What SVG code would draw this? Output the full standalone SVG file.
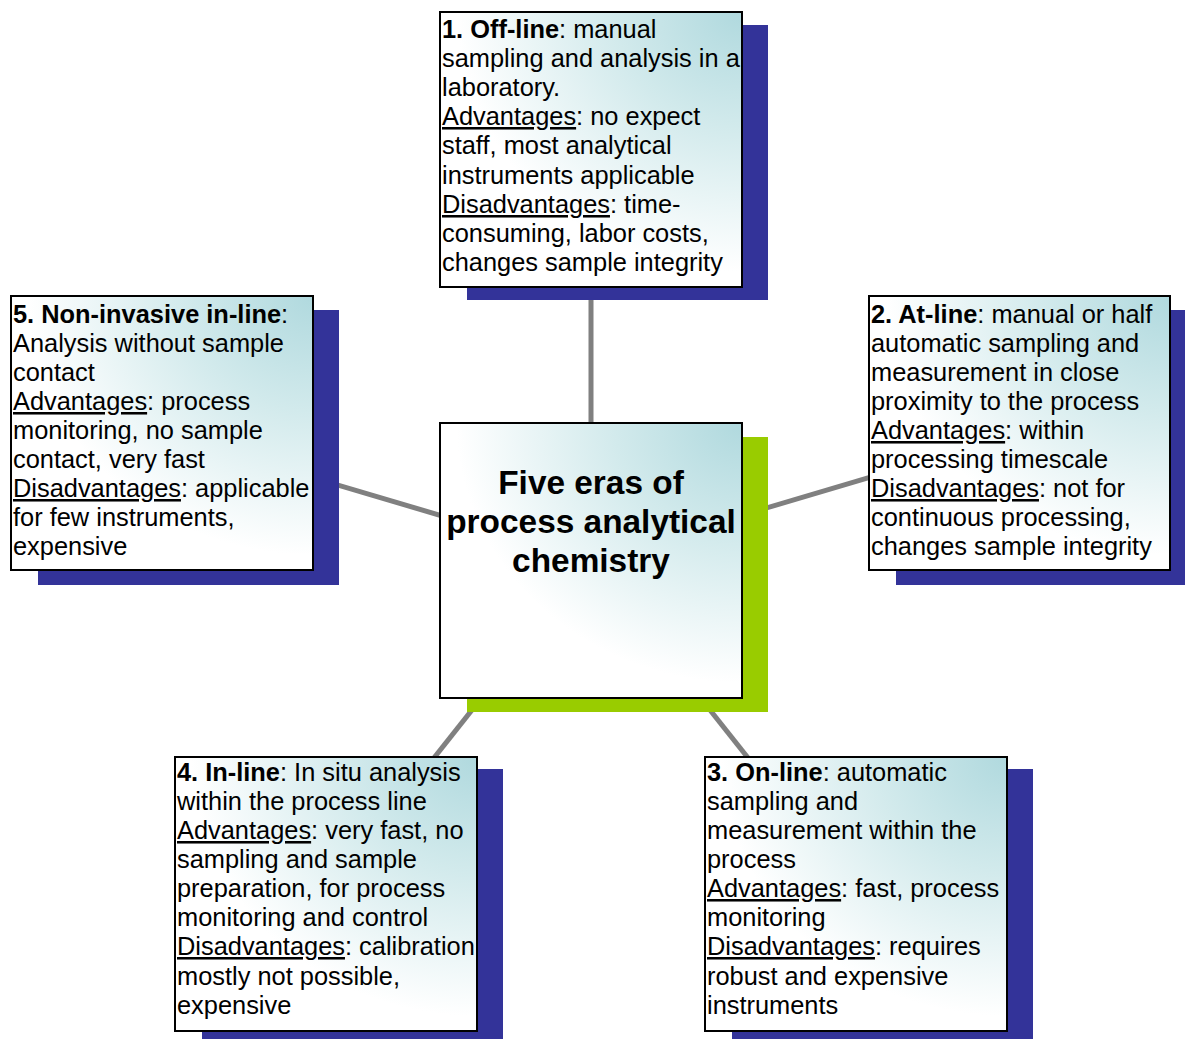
<svg xmlns="http://www.w3.org/2000/svg" width="1185" height="1039" viewBox="0 0 1185 1039">
  <defs>
    <radialGradient id="boxFill" cx="1" cy="0" r="1.05">
      <stop offset="0" stop-color="#b0d9de"/>
      <stop offset="0.4" stop-color="#d2eaec"/>
      <stop offset="0.9" stop-color="#ffffff"/>
    </radialGradient>
  </defs>
  <style>
    .box { fill: url(#boxFill); stroke: #000; stroke-width: 2; }
    .sh { fill: #333399; }
    .shc { fill: #99cc00; }
    .link { stroke: #808080; stroke-width: 5; fill: none; }
    .t { font-family: "Liberation Sans", Arial, sans-serif; font-size: 25.4px; fill: #000; }
    .b { font-weight: bold; }
    .u { text-decoration: underline; }
    .title { font-family: "Liberation Sans", Arial, sans-serif; font-size: 33.4px; font-weight: bold; fill: #000; text-anchor: middle; }
  </style>
  <rect width="1185" height="1039" fill="#ffffff"/>

  <!-- spokes from the hub to each era -->
  <g id="connectors">
    <line class="link" x1="591" y1="560" x2="591" y2="150"/>
    <line class="link" x1="591" y1="560" x2="1019" y2="433"/>
    <line class="link" x1="591" y1="560" x2="856" y2="894"/>
    <line class="link" x1="591" y1="560" x2="326" y2="894"/>
    <line class="link" x1="591" y1="560" x2="162" y2="433"/>
  </g>

  <!-- hub -->
  <g id="center">
    <rect class="shc" x="467" y="437" width="301" height="275"/>
    <rect class="box" x="440" y="423" width="302" height="275"/>
    <text class="title" x="591" y="494">Five eras of</text>
    <text class="title" x="591" y="533">process analytical</text>
    <text class="title" x="591" y="572">chemistry</text>
  </g>

  <!-- 1. Off-line -->
  <g id="offline">
    <rect class="sh" x="467" y="25" width="301" height="275"/>
    <rect class="box" x="440" y="12" width="302" height="275"/>
    <text class="t">
      <tspan x="442" y="38"><tspan class="b">1. Off-line</tspan>: manual</tspan>
      <tspan x="442" y="67">sampling and analysis in a</tspan>
      <tspan x="442" y="96">laboratory.</tspan>
      <tspan x="442" y="125"><tspan class="u">Advantages</tspan>: no expect</tspan>
      <tspan x="442" y="154">staff, most analytical</tspan>
      <tspan x="442" y="184">instruments applicable</tspan>
      <tspan x="442" y="213"><tspan class="u">Disadvantages</tspan>: time-</tspan>
      <tspan x="442" y="242">consuming, labor costs,</tspan>
      <tspan x="442" y="271">changes sample integrity</tspan>
    </text>
  </g>

  <!-- 2. At-line -->
  <g id="atline">
    <rect class="sh" x="896" y="310" width="301" height="275"/>
    <rect class="box" x="869" y="296" width="301" height="274"/>
    <text class="t">
      <tspan x="871" y="323"><tspan class="b">2. At-line</tspan>: manual or half</tspan>
      <tspan x="871" y="352">automatic sampling and</tspan>
      <tspan x="871" y="381">measurement in close</tspan>
      <tspan x="871" y="410">proximity to the process</tspan>
      <tspan x="871" y="439"><tspan class="u">Advantages</tspan>: within</tspan>
      <tspan x="871" y="468">processing timescale</tspan>
      <tspan x="871" y="497"><tspan class="u">Disadvantages</tspan>: not for</tspan>
      <tspan x="871" y="526">continuous processing,</tspan>
      <tspan x="871" y="555">changes sample integrity</tspan>
    </text>
  </g>

  <!-- 3. On-line -->
  <g id="online">
    <rect class="sh" x="732" y="769" width="301" height="276"/>
    <rect class="box" x="705" y="757" width="302" height="274"/>
    <text class="t">
      <tspan x="707" y="781"><tspan class="b">3. On-line</tspan>: automatic</tspan>
      <tspan x="707" y="810">sampling and</tspan>
      <tspan x="707" y="839">measurement within the</tspan>
      <tspan x="707" y="868">process</tspan>
      <tspan x="707" y="897"><tspan class="u">Advantages</tspan>: fast, process</tspan>
      <tspan x="707" y="926">monitoring</tspan>
      <tspan x="707" y="955"><tspan class="u">Disadvantages</tspan>: requires</tspan>
      <tspan x="707" y="985">robust and expensive</tspan>
      <tspan x="707" y="1014">instruments</tspan>
    </text>
  </g>

  <!-- 4. In-line -->
  <g id="inline">
    <rect class="sh" x="202" y="769" width="301" height="276"/>
    <rect class="box" x="175" y="757" width="302" height="274"/>
    <text class="t">
      <tspan x="177" y="781"><tspan class="b">4. In-line</tspan>: In situ analysis</tspan>
      <tspan x="177" y="810">within the process line</tspan>
      <tspan x="177" y="839"><tspan class="u">Advantages</tspan>: very fast, no</tspan>
      <tspan x="177" y="868">sampling and sample</tspan>
      <tspan x="177" y="897">preparation, for process</tspan>
      <tspan x="177" y="926">monitoring and control</tspan>
      <tspan x="177" y="955"><tspan class="u">Disadvantages</tspan>: calibration</tspan>
      <tspan x="177" y="985">mostly not possible,</tspan>
      <tspan x="177" y="1014">expensive</tspan>
    </text>
  </g>

  <!-- 5. Non-invasive in-line -->
  <g id="noninvasive">
    <rect class="sh" x="38" y="310" width="301" height="275"/>
    <rect class="box" x="11" y="296" width="302" height="274"/>
    <text class="t">
      <tspan x="13" y="323"><tspan class="b">5. Non-invasive in-line</tspan>:</tspan>
      <tspan x="13" y="352">Analysis without sample</tspan>
      <tspan x="13" y="381">contact</tspan>
      <tspan x="13" y="410"><tspan class="u">Advantages</tspan>: process</tspan>
      <tspan x="13" y="439">monitoring, no sample</tspan>
      <tspan x="13" y="468">contact, very fast</tspan>
      <tspan x="13" y="497"><tspan class="u">Disadvantages</tspan>: applicable</tspan>
      <tspan x="13" y="526">for few instruments,</tspan>
      <tspan x="13" y="555">expensive</tspan>
    </text>
  </g>
</svg>
